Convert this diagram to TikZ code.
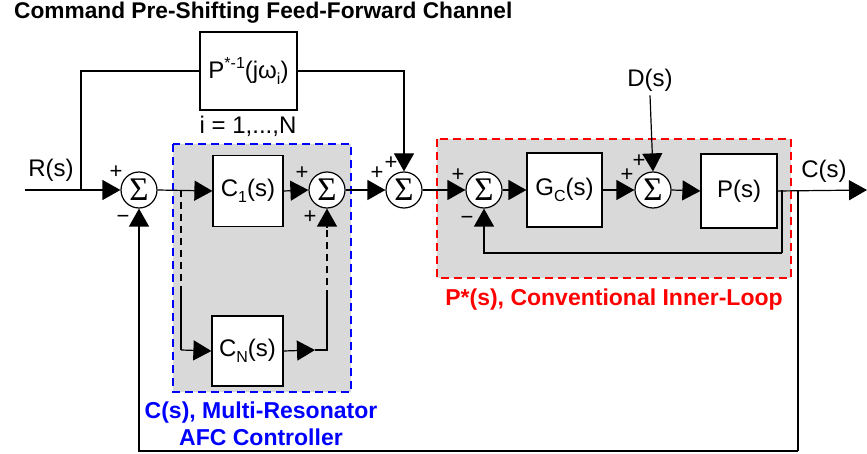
\documentclass[tikz,border=0pt]{standalone}
\usepackage{fontspec}
\setmainfont{Liberation Sans}
\newfontfamily\sigfont{Liberation Serif}
\usetikzlibrary{arrows.meta}
\definecolor{shade}{RGB}{217,217,217}
\newcommand\mysub[1]{\raisebox{-0.45ex}{\fontsize{16}{16}\selectfont #1}}
\newcommand\mysup[1]{\raisebox{0.8ex}{\fontsize{16}{16}\selectfont #1}}
\newcommand\sumsym{\sigfont\fontsize{33}{33}\selectfont\raisebox{0.5pt}{Σ}}
\begin{document}
\begin{tikzpicture}[x=1pt,y=-1pt,
  every node/.style={font=\fontsize{24}{28}\selectfont, inner sep=0pt},
  wire/.style={line width=1.2pt},
  arr/.style={wire,-{Triangle[length=18pt,width=20pt]}},
  blk/.style={draw, line width=1.2pt, fill=white, minimum width=#1},
  sumnode/.style={draw, circle, line width=1.2pt, fill=white, minimum size=36pt},
  sgn/.style={font=\fontsize{22}{22}\selectfont},
  grp/.style={fill=shade, dashed, line width=2.6pt, dash pattern=on 8pt off 5pt},
  lbl/.style={font=\fontsize{23}{27}\selectfont\bfseries}]
\useasboundingbox (0,0) rectangle (867,454);

% group backgrounds
\path[grp, draw=blue] (173,144) rectangle (351,392);
\path[grp, draw=red] (437,139) rectangle (791,278);

% title
\node[lbl, anchor=base west, font=\fontsize{22.7}{27}\selectfont\bfseries] (title) at (14,18.5) {Command Pre-Shifting Feed-Forward Channel};

% blocks
\node[blk=97pt, minimum height=78pt] (pinv) at (248.5,71) {P\mysup{*-1}(jω\mysub{i})};
\node (irange) at (248,126) {i = 1,...,N};
\node[blk=70pt, minimum height=71pt] (c1) at (248,191) {C\mysub{1}(s)};
\node[blk=71pt, minimum height=70pt] (cn) at (247.5,351) {C\mysub{N}(s)};
\node[blk=75pt, minimum height=74pt] (gc) at (564.5,190) {G\mysub{C}(s)};
\node[blk=76pt, minimum height=74pt] (plant) at (739,191) {P(s)};

% summing junctions
\node[sumnode] (s1) at (139,190) {\sumsym};
\node[sumnode] (s2) at (327,190) {\sumsym};
\node[sumnode] (s3) at (404,190) {\sumsym};
\node[sumnode] (s4) at (484,190) {\sumsym};
\node[sumnode] (s5) at (653,190) {\sumsym};

% signs
\node[sgn] (p1a) at (116,172) {+};
\node[sgn] (m1) at (123,219) {−};
\node[sgn] (p2a) at (302,173) {+};
\node[sgn] (p2b) at (310,217) {+};
\node[sgn] (p3a) at (377,173) {+};
\node[sgn] (p3b) at (391,163) {+};
\node[sgn] (p4a) at (458,175) {+};
\node[sgn] (m4) at (467,220) {−};
\node[sgn] (p5a) at (627,175) {+};
\node[sgn] (p5b) at (639,161) {+};

% signal labels
\node (rlab) at (51,170) {R(s)};
\node (dlab) at (650,80) {D(s)};
\node (clab) at (824,171) {C(s)};

% group labels
\node[lbl, text=red] (plab) at (614,300) {P*(s), Conventional Inner-Loop};
\node[lbl, text=blue, align=center] (clab2) at (261,424) {C(s), Multi-Resonator\\AFC Controller};

% coordinates
\coordinate (rin) at (25,190);
\coordinate (rjn) at (81,190);
\coordinate (bjn) at (181,190);
\coordinate (bdash) at (181,292);
\coordinate (bcorner) at (181,350);
\coordinate (cnmid) at (315,350);
\coordinate (cncorner) at (327,350);
\coordinate (cndash) at (327,297);
\coordinate (s2tip) at (327,228);
\coordinate (ifb) at (782,190);
\coordinate (ifbc) at (782,253);
\coordinate (ofb) at (798,190);
\coordinate (ofbc) at (798,451);
\coordinate (cout) at (867,190);

% connectors
\draw[arr] (rin) -- (s1.west);
\draw[wire] (rjn) |- (pinv.west);
\draw[arr] (pinv.east) -| (s3.north);
\draw[arr] (s1.east) -- (c1.west);
\draw[wire, dashed, dash pattern=on 7pt off 5pt] (bjn) -- (bdash);
\draw[wire] (bdash) -- (bcorner);
\draw[arr] (bcorner) -- (cn.west);
\draw[arr] (cn.east) -- (cnmid);
\draw[wire] (cnmid) -- (cncorner) -- (cndash);
\draw[wire, dashed, dash pattern=on 7pt off 5pt] (cndash) -- (s2tip);
\draw[arr] (s2tip) -- (s2.south);
\draw[arr] (c1.east) -- (s2.west);
\draw[arr] (s2.east) -- (s3.west);
\draw[arr] (s3.east) -- (s4.west);
\draw[arr] (s4.east) -- (gc.west);
\draw[arr] (gc.east) -- (s5.west);
\draw[arr] (dlab.south) ++(0,4) -- (s5.north);
\draw[arr] (s5.east) -- (plant.west);
\draw[arr] (plant.east) -- (cout);
\draw[wire] (ifb) -- (ifbc);
\draw[arr] (ifbc) -| (s4.south);
\draw[wire] (ofb) -- (ofbc);
\draw[arr] (ofbc) -| (s1.south);
\end{tikzpicture}
\end{document}
